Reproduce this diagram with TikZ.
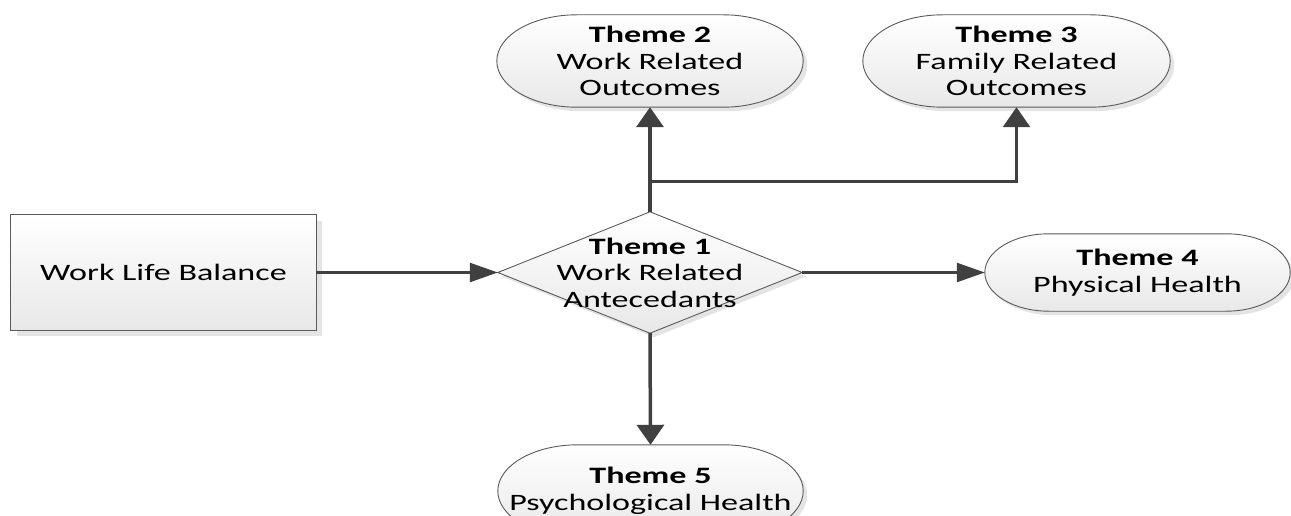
\documentclass[tikz,border=0pt]{standalone}
\usepackage{fontspec}
\setmainfont[FakeStretch=1.45]{Carlito}
\usetikzlibrary{arrows.meta,backgrounds}
\definecolor{conn}{HTML}{404040}
\definecolor{edgec}{HTML}{5A5A5A}
\definecolor{shad}{HTML}{E4E4E4}
\tikzset{
 lbl/.style={align=center, font=\fontsize{23.5}{26.5}\selectfont, inner sep=0pt},
 boxfill/.style={draw=edgec, line width=0.9pt, top color=white, bottom color=black!9},
 shadowed/.style={preaction={fill=shad, transform canvas={shift={(#1,-#1)}}}},
 vconn/.style={draw=conn, line width=3.5pt, -{Triangle[length=20pt,width=27pt]}},
 vconnthin/.style={draw=conn, line width=3pt, -{Triangle[length=20pt,width=27pt]}},
 hconn/.style={draw=conn, line width=2.5pt, -{Triangle[length=28pt,width=19pt]}},
}
\newcommand\stadiumshape[4]{%
 \path[#1] ([xshift=#3]#2.north west) -- ([xshift=-#3]#2.north east)
 .. controls ([xshift=-0.4477*#3]#2.north east) and ([yshift=0.5523*#4]#2.east) .. (#2.east)
 .. controls ([yshift=-0.5523*#4]#2.east) and ([xshift=-0.4477*#3]#2.south east) .. ([xshift=-#3]#2.south east)
 -- ([xshift=#3]#2.south west)
 .. controls ([xshift=0.4477*#3]#2.south west) and ([yshift=-0.5523*#4]#2.west) .. (#2.west)
 .. controls ([yshift=0.5523*#4]#2.west) and ([xshift=0.4477*#3]#2.north west) .. ([xshift=#3]#2.north west) -- cycle;%
}
\begin{document}
\begin{tikzpicture}[x=1pt,y=-1pt]
\useasboundingbox (0,0) rectangle (1291,516);
\clip (0,0) rectangle (1291,516);
% nodes (text)
\node[lbl, minimum width=305pt, minimum height=115pt] (wlb) at (163.5,272.5) {Work Life Balance};
\node[lbl, minimum width=304pt, minimum height=121pt] (t1) at (650,272.5) {\textbf{Theme 1}\\Work Related\\Antecedants};
\node[lbl, minimum width=306pt, minimum height=92pt] (t2) at (650,61) {\textbf{Theme 2}\\Work Related\\Outcomes};
\node[lbl, minimum width=307pt, minimum height=92pt] (t3) at (1016.5,61) {\textbf{Theme 3}\\Family Related\\Outcomes};
\node[lbl, minimum width=305pt, minimum height=77pt] (t4) at (1137.5,272.5) {\textbf{Theme 4}\\Physical Health};
\node[lbl, minimum width=305pt, minimum height=92pt] (t5) at (650.5,491) {\textbf{Theme 5}\\Psychological Health};
% shapes
\begin{scope}[on background layer]
 \path[boxfill, shadowed=6pt] (wlb.north west) rectangle (wlb.south east);
 \path[boxfill, shadowed=4pt] (t1.west) -- (t1.north) -- (t1.east) -- (t1.south) -- cycle;
 \stadiumshape{boxfill, shadowed=4pt}{t2}{80pt}{46pt}
 \stadiumshape{boxfill, shadowed=4pt}{t3}{80pt}{46pt}
 \stadiumshape{boxfill, shadowed=4pt}{t4}{64pt}{38.5pt}
 \stadiumshape{boxfill, shadowed=4pt}{t5}{80pt}{46pt}
\end{scope}
% connectors
\coordinate (jn) at (650,182);
\path[hconn] (wlb.east) -- (t1.west);
\path[hconn] (t1.east) -- (t4.west);
\path[vconn] (t1.south) -- (t5.north);
\path[vconn] (t1.north) -- (t2.south);
\path[vconnthin] (jn) -| (t3.south);
\end{tikzpicture}
\end{document}
